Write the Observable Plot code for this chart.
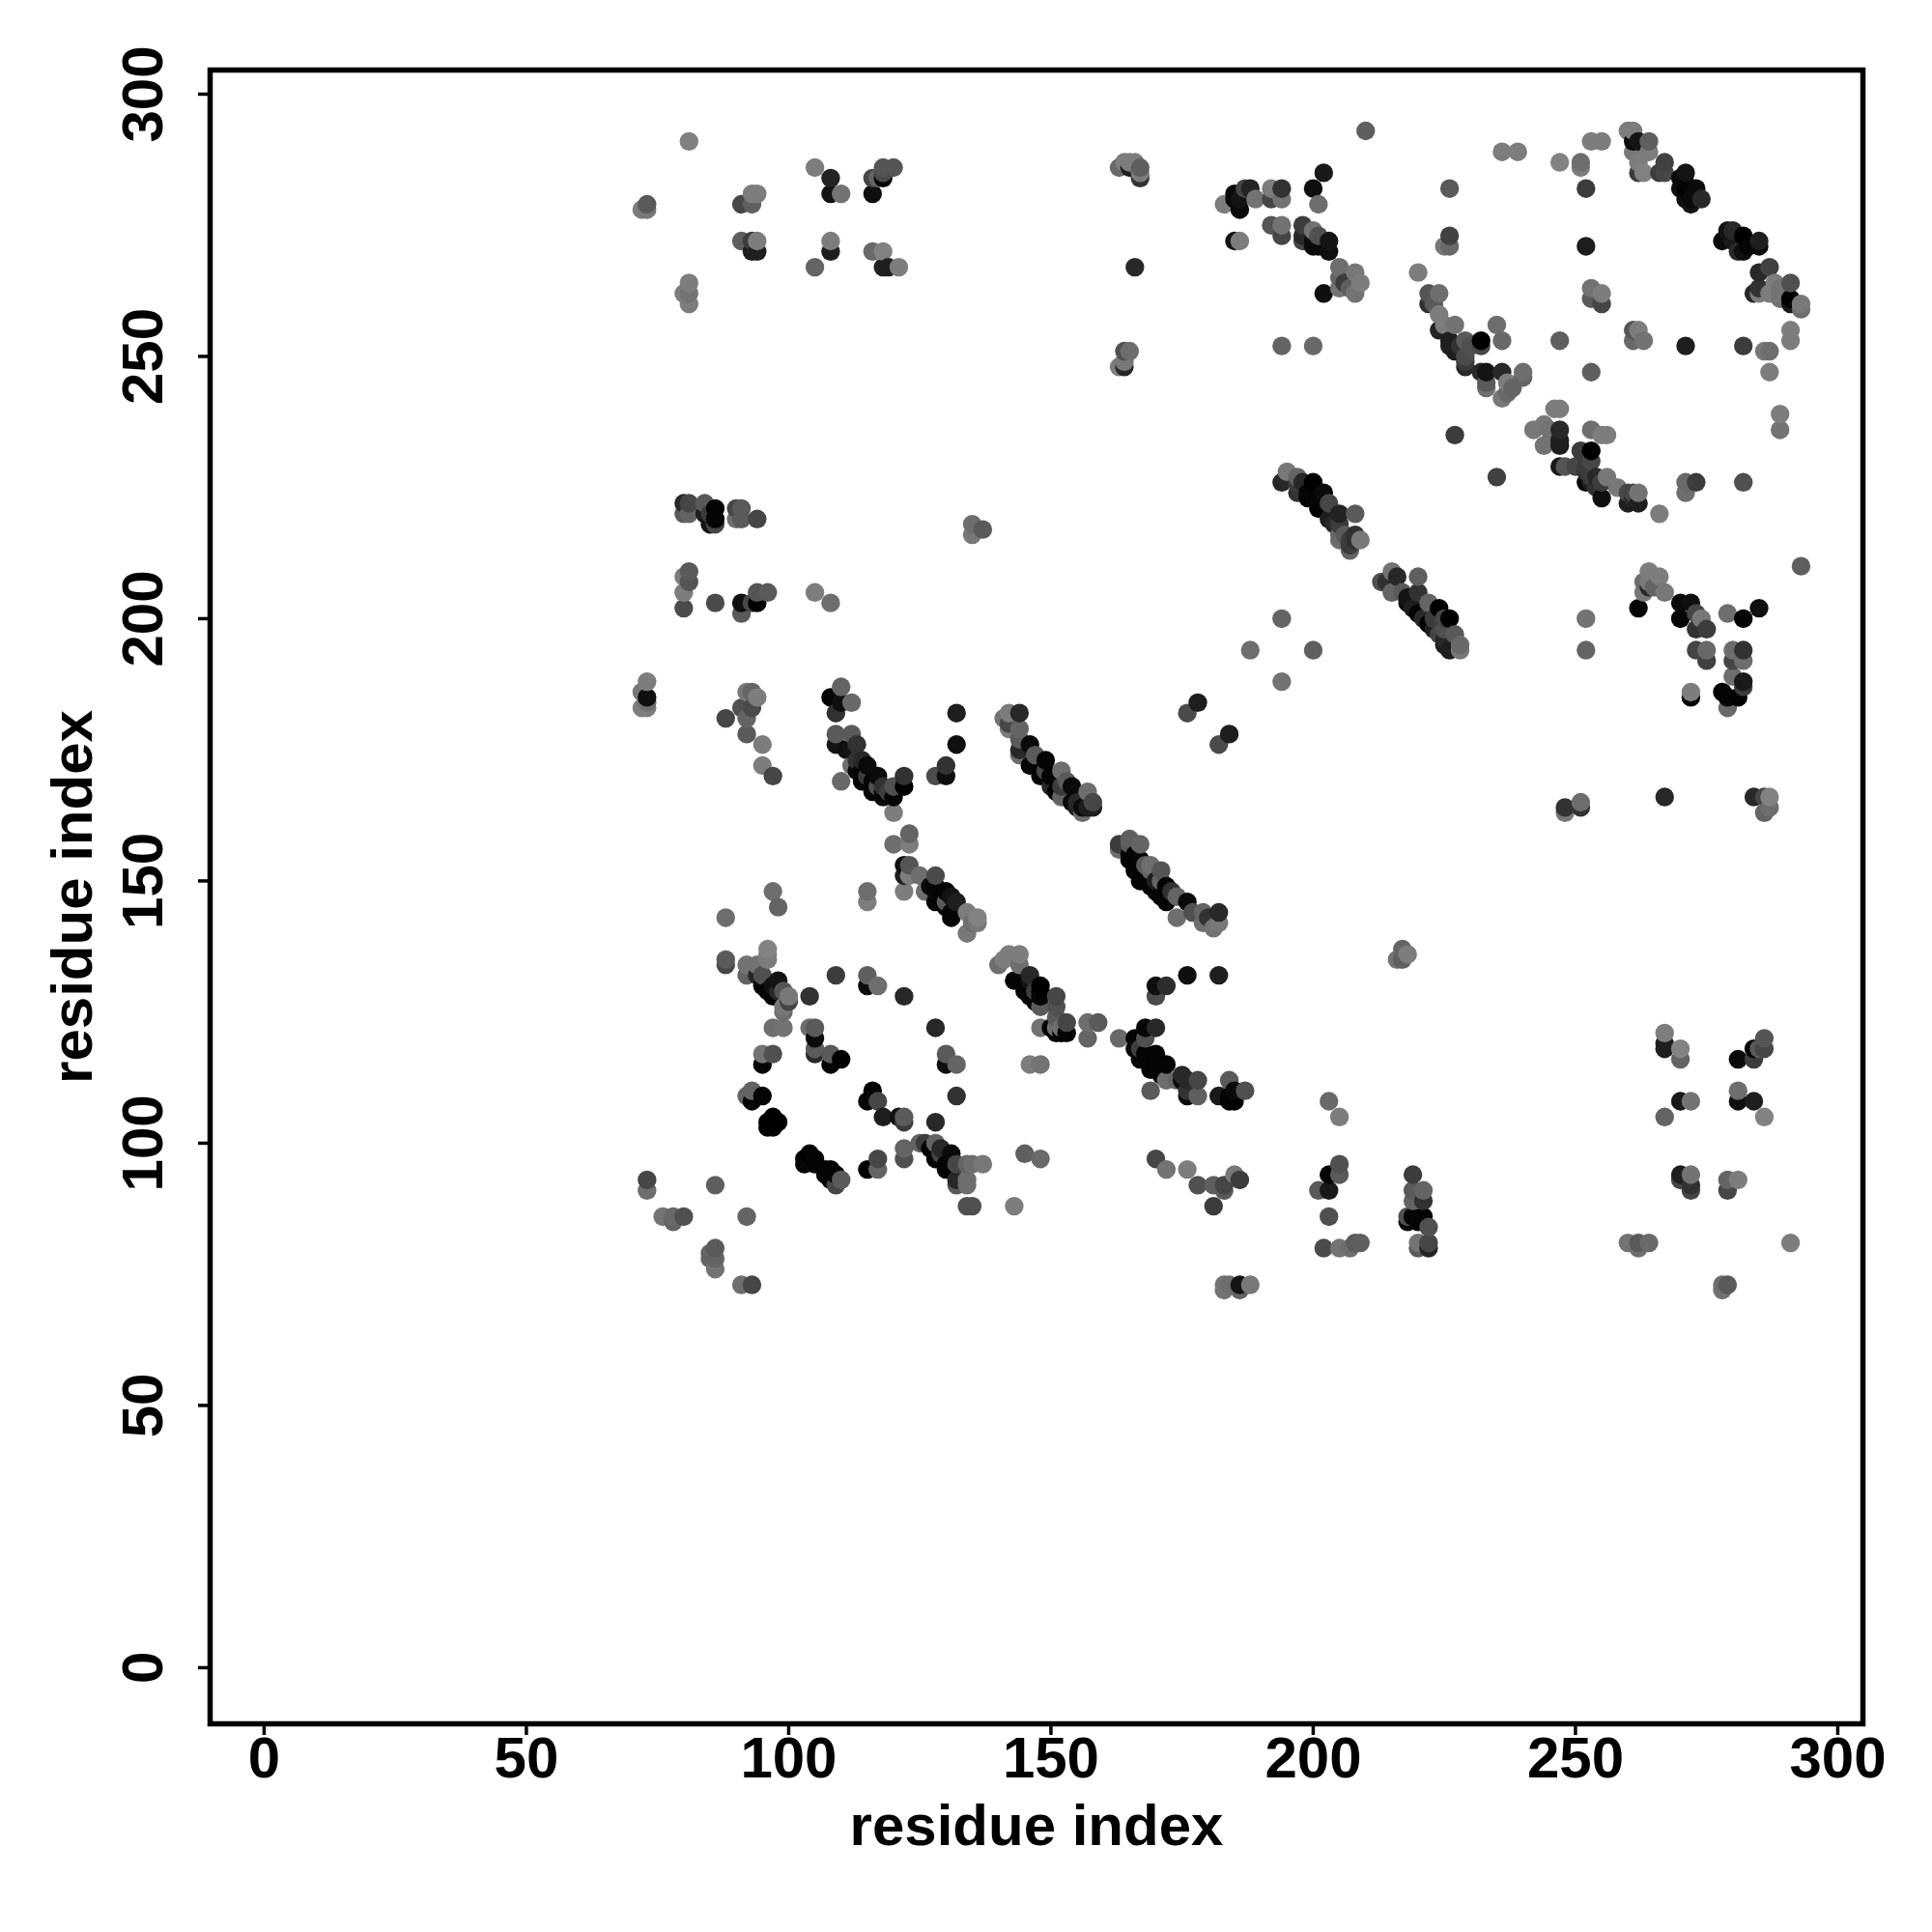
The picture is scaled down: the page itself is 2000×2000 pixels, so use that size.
<!DOCTYPE html>
<html><head><meta charset="utf-8">
<script src="https://cdn.jsdelivr.net/npm/d3@7"></script>
<script src="https://cdn.jsdelivr.net/npm/@observablehq/plot@0.6"></script>
<style>html,body{margin:0;padding:0;background:#fff}svg{display:block}</style>
</head><body><div id="chart"></div>
<script>
// [residue i, residue j, score (0 = strongest/black … 130 = weakest/grey)]
const topLeft=[[81,291,128],[105,286,125],[108,284,35],[108,281,20],[110,281,115],[116,284,70],[116,281,15],[117,284,100],[118,284,5],[118,285,75],[118,286,85],[120,286,85],[72,278,125],[73,278,120],[73,279,90],[91,279,70],[93,279,95],[93,281,125],[94,281,125],[91,272,95],[93,270,30],[94,270,30],[93,272,60],[94,272,125],[108,270,30],[108,272,125],[105,267,100],[116,270,105],[118,270,130],[118,267,35],[119,267,30],[121,267,125],[80,262,125],[81,264,125],[81,262,115],[81,260,125],[163,286,105],[164,287,125],[165,287,125],[166,287,125],[165,286,30],[167,284,50],[167,285,125],[167,286,95],[165,251,110],[164,251,80],[163,248,125],[164,248,40],[164,249,120],[166,267,40]];
const topMiddle=[[183,279,125],[185,281,10],[185,280,10],[186,278,10],[186,280,20],[187,282,70],[188,282,35],[189,280,115],[192,282,125],[194,282,50],[192,280,70],[194,280,115],[201,279,110],[200,282,15],[202,285,25],[210,293,95],[185,272,20],[186,272,125],[192,275,85],[194,275,115],[194,273,70],[198,275,60],[200,274,115],[198,273,40],[198,272,70],[200,271,10],[201,273,80],[203,272,20],[203,270,15],[201,271,10],[200,272,10],[202,262,15],[205,267,110],[208,266,120],[205,263,115],[207,263,95],[209,264,125],[208,262,115],[205,265,100],[206,264,60],[194,252,100],[200,252,105]];
const topBand=[[220,266,125],[222,262,85],[224,262,110],[222,260,50],[223,260,90],[224,258,125],[224,255,35],[227,256,115],[225,256,125],[226,253,30],[226,252,35],[229,253,90],[232,253,0],[235,256,110],[236,253,105],[232,252,70],[229,250,75],[229,248,40],[232,247,40],[236,247,40],[233,244,110],[240,247,110],[237,245,125],[237,243,105],[236,242,120],[226,282,90],[226,273,65],[225,271,120],[226,271,105],[236,289,125],[239,289,125],[247,287,130],[251,287,110],[251,286,125],[252,282,60],[253,291,125],[255,291,125],[252,271,30],[253,263,115],[255,262,125],[253,261,90],[255,260,70],[247,253,95],[261,255,85],[262,255,125],[261,253,105],[263,253,115],[271,252,30],[282,252,60],[287,251,110],[286,251,120],[287,247,125],[291,255,125],[291,253,125],[289,239,125],[289,236,115],[253,247,95],[230,252,80],[233,247,20],[228,252,50],[227,251,30],[229,249,60],[240,246,100],[238,244,100],[233,245,90]];
const topRight=[[260,293,125],[261,293,125],[262,291,20],[261,291,10],[264,291,95],[261,289,120],[264,289,125],[262,287,125],[263,285,130],[262,285,60],[267,287,65],[266,285,60],[267,285,70],[271,285,20],[270,282,15],[273,282,10],[272,280,10],[272,279,20],[274,280,40],[271,280,15],[273,281,10],[280,274,40],[278,272,10],[282,273,0],[281,270,40],[279,274,20],[282,270,15],[285,271,10],[285,272,30],[280,272,25],[287,267,65],[285,266,40],[291,264,80],[288,264,125],[285,262,125],[287,262,125],[289,261,115],[291,261,0],[293,260,120],[293,259,110],[284,262,40],[271,283,5],[270,284,10],[271,282,5],[283,271,5],[291,260,25],[285,263,50],[289,263,115]];
const band1=[[195,228,120],[194,226,40],[197,226,60],[197,227,100],[198,226,40],[200,226,0],[199,223,0],[202,224,10],[201,221,0],[203,222,70],[205,220,35],[208,220,90],[203,219,30],[205,216,105],[208,216,50],[209,215,120],[207,213,100],[207,215,60],[204,218,40],[199,224,5],[200,223,5],[201,223,5],[197,224,50],[205,215,110],[206,216,90],[207,214,60],[205,218,60],[208,215,50]];
const circleLower=[[227,235,60],[235,227,65],[246,240,125],[247,240,125],[242,236,120],[244,237,120],[245,236,115],[247,236,40],[247,233,30],[244,233,115],[246,235,115],[247,234,30],[253,236,110],[255,235,125],[256,235,125],[253,232,0],[251,232,60],[247,229,25],[248,229,85],[250,229,70],[252,229,60],[252,226,10],[253,227,60],[255,223,15],[256,227,120],[258,225,120],[260,224,70],[260,222,30],[262,222,30],[262,224,115],[266,220,125],[271,226,105],[273,226,60],[271,224,110],[282,226,80],[254,227,40],[252,228,50],[253,230,70],[253,226,30],[254,225,50],[261,223,40],[261,224,70],[255,226,60]];
const band2=[[215,209,115],[216,208,40],[213,207,80],[220,208,95],[214,207,50],[215,205,100],[217,205,90],[218,203,10],[220,205,50],[222,203,100],[224,202,0],[220,201,5],[226,200,0],[222,199,0],[225,200,70],[227,197,90],[225,196,40],[228,195,105],[226,194,30],[228,194,120],[218,204,20],[219,202,30],[221,200,40],[223,200,60],[224,197,70],[225,198,80],[225,195,30],[223,198,30],[194,200,100],[188,194,110],[200,194,95],[194,188,115],[184,178,30],[182,176,75],[178,184,30],[176,182,75]];
const midRight=[[293,210,95],[264,209,125],[266,208,125],[263,207,110],[264,207,120],[263,205,120],[267,205,120],[264,206,40],[265,206,100],[262,202,5],[270,203,10],[272,203,15],[270,200,5],[273,201,70],[274,200,120],[273,198,50],[275,198,60],[279,201,110],[282,200,5],[285,202,15],[252,200,115],[252,194,100],[273,194,70],[275,194,105],[275,192,65],[280,194,110],[282,194,50],[280,192,70],[282,192,110],[280,189,110],[282,188,25],[282,187,60],[278,186,5],[279,185,5],[281,185,0],[272,185,5],[272,186,125],[279,183,105],[248,164,50],[248,163,120],[251,165,110],[251,164,50],[267,166,40],[284,166,40],[286,166,70],[287,166,130],[286,163,100],[287,164,110],[217,137,100],[216,135,115],[218,136,125],[217,135,95]];
const midLeft=[[81,209,90],[80,208,125],[81,207,85],[80,205,125],[80,202,75],[86,203,75],[91,203,15],[91,201,90],[94,203,0],[94,205,85],[96,205,90],[93,203,70],[105,205,125],[108,203,110],[73,188,125],[72,186,120],[73,185,15],[72,183,125],[73,183,125],[73,184,110],[93,186,100],[92,186,120],[94,185,125],[91,183,80],[93,183,75],[92,181,100],[88,181,70],[92,178,90],[95,176,125],[95,172,125],[97,170,70],[135,218,110],[137,217,90],[135,216,120],[80,222,40],[81,222,70],[80,220,90],[81,220,100],[84,222,90],[85,220,60],[84,220,30],[86,221,5],[86,219,5],[85,218,20],[86,218,70],[90,221,70],[91,221,90],[90,219,110],[91,219,90],[94,219,70]];
const vBand=[[110,187,100],[108,185,5],[110,184,15],[112,184,105],[109,182,50],[109,178,90],[112,178,90],[109,176,20],[113,176,50],[111,175,15],[110,169,105],[115,172,10],[113,171,10],[117,170,10],[114,169,0],[116,167,5],[120,168,80],[118,166,10],[120,166,5],[122,170,50],[122,168,0],[118,168,50],[112,172,110],[120,163,125],[132,182,30],[132,176,15],[130,172,50],[130,170,15],[128,170,75],[123,159,100],[120,157,110],[123,157,125],[114,171,5],[115,170,60],[116,169,5],[117,168,80],[118,167,5],[119,167,60],[113,173,50],[112,175,20],[114,173,40]];
const band3=[[144,182,40],[142,182,125],[141,181,115],[142,180,70],[142,179,125],[144,179,100],[144,177,90],[146,176,10],[144,174,110],[144,175,40],[147,174,90],[146,172,5],[149,173,5],[148,170,5],[152,171,110],[151,167,5],[154,168,10],[154,165,10],[157,167,110],[158,165,70],[156,163,110],[155,164,30],[152,166,100],[150,168,40],[150,170,5],[149,171,70],[157,164,30],[158,164,30],[155,165,40],[156,164,10],[153,169,90],[152,168,60]];
const band4=[[165,158,95],[163,157,60],[163,156,110],[167,157,100],[165,157,90],[165,154,5],[169,153,110],[171,152,85],[166,152,5],[167,150,5],[172,149,5],[171,147,5],[172,146,5],[176,146,10],[174,147,100],[174,143,110],[177,144,80],[179,144,100],[182,144,40],[179,142,110],[181,141,115],[182,142,120],[180,143,50],[165,155,5],[166,155,5],[167,154,5],[168,151,5],[169,152,100],[170,150,30],[169,149,5],[170,148,5],[173,148,50],[171,150,100],[168,153,90]];
const band5=[[122,153,15],[123,153,85],[122,151,30],[125,151,110],[128,151,75],[123,151,125],[122,148,125],[128,148,10],[130,148,5],[126,148,110],[128,146,5],[132,146,30],[130,146,90],[131,143,5],[134,144,125],[136,143,130],[134,140,120],[136,142,120],[135,142,110],[97,148,110],[98,145,100],[88,143,110],[115,148,110],[115,146,125],[129,147,5],[130,145,5],[131,144,5],[129,146,5],[127,149,10],[128,149,5],[131,147,20]];
const leftCluster=[[88,135,90],[88,134,70],[96,137,130],[96,136,125],[96,135,125],[92,134,115],[94,134,115],[92,132,100],[95,132,80],[94,132,40],[95,130,5],[98,131,20],[97,128,5],[99,129,85],[100,128,120],[100,127,70],[99,126,120],[99,125,110],[104,128,50],[109,132,60],[115,132,95],[115,130,10],[117,130,110],[122,128,40],[128,122,40],[97,122,110],[99,122,115],[105,122,90],[104,122,110],[105,120,10],[105,118,90],[105,117,40],[108,117,90],[110,116,0],[108,115,5],[95,117,115],[97,117,80],[95,115,5],[130,117,90],[132,115,100],[130,115,15],[93,110,100],[92,109,100],[95,109,5],[93,108,5],[97,105,0],[98,104,0],[96,103,5],[116,110,5],[115,108,5],[117,108,70],[118,105,30],[121,105,15],[122,105,90],[122,104,60],[132,109,50],[128,104,40],[104,98,0],[103,96,5],[105,96,5],[108,95,5],[110,93,90],[109,92,70],[107,94,5],[115,95,0],[117,97,70],[117,95,100],[122,99,100],[122,97,80],[125,100,100],[128,100,100],[129,98,70],[128,97,5],[131,98,10],[130,95,5],[132,96,70],[134,96,100],[137,96,120],[135,96,110],[132,92,90],[134,93,110],[134,92,110],[132,93,40],[145,98,95],[148,97,105],[104,97,5],[105,97,5],[103,97,5],[108,93,5],[109,94,5],[107,95,5],[97,104,0],[96,104,0],[97,103,5],[127,99,5],[129,97,5],[130,96,5],[131,95,5],[126,100,60],[129,99,40],[96,129,5],[97,130,15],[98,129,40]];
const band6=[[142,136,125],[144,136,125],[140,134,110],[141,135,125],[144,134,110],[146,132,40],[143,131,5],[148,130,0],[145,129,5],[148,128,5],[147,129,60],[151,128,70],[148,126,90],[151,126,80],[151,124,90],[153,123,70],[153,121,5],[151,121,5],[148,122,115],[151,122,110],[157,123,110],[159,123,90],[157,120,100],[163,120,105],[146,115,125],[148,115,115],[147,127,5],[146,128,5],[148,129,5],[146,131,20],[144,131,5],[150,122,5],[152,121,5],[152,122,110]];
const band7=[[168,122,5],[170,122,40],[166,120,5],[168,120,80],[166,118,10],[170,117,5],[167,116,5],[169,114,5],[172,115,5],[169,110,90],[172,112,110],[174,112,100],[176,112,40],[178,112,70],[176,109,10],[178,109,95],[176,110,50],[170,130,15],[172,130,45],[170,128,75],[176,132,15],[182,132,30],[184,112,90],[182,109,25],[184,109,5],[185,108,0],[187,110,80],[185,110,10],[184,108,5],[167,118,60],[169,116,5],[170,115,5],[171,113,5],[170,114,5],[168,117,5],[175,112,10],[175,113,40]];
const lowLeft=[[170,97,70],[172,95,115],[176,95,125],[178,92,80],[181,92,95],[183,92,70],[183,91,90],[185,94,120],[186,93,60],[181,88,60],[73,93,70],[73,91,110],[86,92,95],[92,86,100],[76,86,115],[78,86,105],[80,86,80],[78,85,100],[86,80,90],[85,79,100],[86,76,115],[86,78,100],[85,78,100],[91,73,110],[93,73,70],[134,88,80],[135,88,80],[143,88,125],[183,73,115],[183,72,115],[184,73,110],[186,73,20],[186,72,100],[188,73,120]];
const lowMiddle=[[203,108,105],[205,105,125],[203,94,5],[205,96,80],[205,94,90],[201,91,90],[203,91,25],[203,86,80],[202,80,75],[205,80,115],[207,80,110],[209,81,95],[208,81,90],[219,94,60],[219,91,90],[221,91,100],[219,89,100],[221,89,50],[218,86,80],[218,85,10],[219,86,5],[221,86,5],[220,85,5],[222,84,80],[220,81,115],[220,80,90],[222,81,70],[222,80,35]];
const lowRight=[[267,121,125],[267,119,30],[267,118,30],[270,118,130],[270,116,100],[281,116,10],[284,118,5],[284,116,60],[285,118,90],[286,118,70],[286,120,85],[270,108,25],[272,108,115],[267,105,100],[281,110,110],[281,108,15],[284,108,30],[286,105,130],[270,94,30],[270,93,70],[272,94,115],[272,91,70],[272,92,50],[279,93,100],[281,93,125],[279,91,70],[260,81,115],[262,80,110],[262,81,90],[264,81,105],[291,81,125],[278,72,115],[279,73,90],[278,73,110]];

const axisTicks=[0,50,100,150,200,250,300];
const axisLabel="residue index";

const rows=[topLeft,topMiddle,topBand,topRight,band1,circleLower,band2,midRight,midLeft,vBand,band3,band4,band5,leftCluster,band6,band7,lowLeft,lowMiddle,lowRight].flat();
const contacts=d3.sort(rows,d=>d[0],d=>d[1]).map(([i,j,score])=>({i,j,score}));

const font="'Liberation Sans',Arial,Helvetica,sans-serif";
const plot=Plot.plot({
  width:2000,height:2000,
  marginLeft:217,marginRight:72,marginTop:72,marginBottom:216,
  style:{fontFamily:font,background:"#fff"},
  x:{domain:[-10.3,304.8],label:null},
  y:{domain:[-10.7,304.6],label:null},
  color:{type:"linear",domain:[0,130],range:["#000000","#828282"]},
  marks:[
    Plot.dot(contacts,{x:"i",y:"j",fill:"score",r:9.7,stroke:"none"}),
    Plot.frame({stroke:"#000",strokeWidth:5.5}),
    Plot.axisX({ticks:axisTicks,tickSize:12,tickPadding:1,strokeWidth:3.5,fontSize:60,fontWeight:"bold",label:null,tickFormat:d=>String(d),fill:"#000",stroke:"#000"}),
    Plot.axisY({ticks:axisTicks,tickSize:12,tickPadding:38,strokeWidth:3.5,fontSize:60,fontWeight:"bold",label:null,tickRotate:-90,tickFormat:d=>String(d),fill:"#000",stroke:"#000"}),
    Plot.text([axisLabel],{frameAnchor:"bottom",dy:125,fontSize:60,fontWeight:"bold",fill:"#000",text:d=>d,lineAnchor:"bottom"}),
    Plot.text([axisLabel],{frameAnchor:"left",dx:-165,rotate:-90,textAnchor:"middle",fontSize:60,fontWeight:"bold",fill:"#000",text:d=>d,lineAnchor:"top"})
  ]
});
document.getElementById("chart").append(plot);
</script></body></html>
